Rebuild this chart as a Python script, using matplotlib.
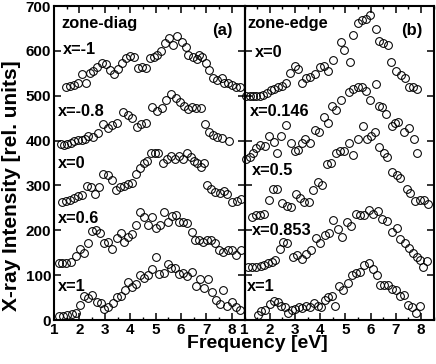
import matplotlib
matplotlib.use('Agg')
import matplotlib.pyplot as plt
from matplotlib.ticker import MultipleLocator

plt.rcParams['font.family'] = ['Liberation Sans', 'DejaVu Sans']
plt.rcParams['font.weight'] = 'bold'

# ---------------- data: zone-diag (a) ----------------
a_m1_x = [1.47, 1.63, 1.79, 1.94, 2.09, 2.25, 2.42, 2.55, 2.71, 2.88, 3.05, 3.2, 3.36, 3.53, 3.69,
          3.83, 3.99, 4.15, 4.29, 4.45, 4.61, 4.78, 4.94, 5.07, 5.2, 5.37, 5.54, 5.7, 5.83, 6.05,
          6.18, 6.29, 6.46, 6.62, 6.72, 6.84, 6.97, 7.11, 7.27, 7.43, 7.6, 7.7, 7.84, 8.0, 8.17, 8.33]
a_m1_y = [520, 522, 525, 528, 548, 529, 551, 554, 565, 574, 570, 557, 548, 559, 572,
          583, 588, 587, 561, 565, 561, 583, 587, 591, 600, 617, 628, 613, 633, 620,
          609, 591, 587, 581, 591, 587, 572, 557, 539, 535, 539, 528, 529, 524, 520, 519]

a_m08_x = [1.26, 1.39, 1.52, 1.67, 1.8, 1.93, 2.09, 2.22, 2.35, 2.52, 2.75, 2.92, 3.11, 3.27, 3.49,
           3.73, 3.93, 4.06, 4.26, 4.41, 4.61, 4.85, 5.04, 5.24, 5.41, 5.59, 5.79, 5.96, 6.12, 6.29,
           6.42, 6.59, 6.79, 6.94, 7.11, 7.27, 7.43, 7.63, 7.9]
a_m08_y = [392, 391, 392, 394, 398, 401, 401, 403, 410, 407, 416, 438, 427, 435, 440,
           464, 457, 450, 430, 438, 440, 474, 467, 472, 490, 503, 494, 487, 477, 470,
           474, 472, 472, 437, 418, 412, 409, 405, 398]

a_0_x = [1.3, 1.46, 1.62, 1.78, 1.94, 2.1, 2.3, 2.46, 2.62, 2.78, 2.94, 3.11, 3.27, 3.44, 3.6,
         3.77, 3.93, 4.07, 4.23, 4.39, 4.54, 4.67, 4.83, 4.96, 5.09, 5.28, 5.46, 5.6, 5.78, 5.92,
         6.08, 6.23, 6.38, 6.5, 6.64, 6.77, 6.9, 7.04, 7.19, 7.35, 7.52, 7.68, 7.82, 8.02, 8.19, 8.36]
a_0_y = [263, 266, 267, 271, 276, 279, 299, 297, 282, 296, 325, 323, 312, 289, 296,
         298, 304, 306, 325, 338, 349, 355, 372, 372, 372, 349, 360, 366, 358, 366,
         360, 373, 364, 355, 351, 342, 349, 301, 292, 286, 284, 288, 282, 262, 265, 269]

a_06_x = [1.2, 1.33, 1.49, 1.65, 1.85, 2.02, 2.19, 2.35, 2.48, 2.65, 2.81, 2.98, 3.14, 3.27, 3.47,
          3.62, 3.77, 3.93, 4.06, 4.23, 4.39, 4.56, 4.71, 4.85, 5.02, 5.17, 5.33, 5.48, 5.63, 5.8,
          5.93, 6.09, 6.25, 6.42, 6.55, 6.72, 6.88, 7.01, 7.17, 7.34, 7.5, 7.67, 7.84, 8.0, 8.17, 8.35]
a_06_y = [126, 126, 128, 130, 143, 158, 150, 172, 199, 201, 193, 171, 175, 158, 182,
          195, 175, 184, 192, 212, 241, 230, 212, 230, 204, 212, 241, 219, 232, 234,
          219, 219, 217, 197, 178, 178, 175, 178, 178, 172, 155, 152, 156, 155, 145, 156]

a_1_x = [1.2, 1.37, 1.52, 1.69, 1.85, 2.02, 2.18, 2.35, 2.51, 2.68, 2.84, 2.98, 3.14, 3.31, 3.47,
         3.62, 3.79, 3.93, 4.06, 4.23, 4.39, 4.56, 4.69, 4.85, 5.02, 5.15, 5.33, 5.48, 5.61, 5.76,
         5.93, 6.07, 6.22, 6.42, 6.58, 6.75, 6.91, 7.05, 7.21, 7.37, 7.54, 7.67, 7.82, 7.99, 8.17, 8.33]
a_1_y = [9, 9, 11, 13, 16, 33, 53, 50, 56, 41, 37, 24, 30, 39, 52,
         53, 67, 85, 74, 80, 100, 93, 100, 113, 141, 103, 105, 125, 115, 115,
         103, 105, 98, 106, 76, 91, 71, 91, 63, 45, 36, 67, 32, 41, 30, 22]

# ---------------- data: zone-edge (b) ----------------
b_0_x = [1.07, 1.2, 1.33, 1.46, 1.6, 1.73, 1.9, 2.04, 2.17, 2.33, 2.49, 2.66, 2.79, 2.99, 3.12,
         3.28, 3.43, 3.59, 3.79, 3.99, 4.15, 4.32, 4.52, 4.82, 4.96, 5.18, 5.32, 5.52, 5.67, 5.81,
         5.98, 6.21, 6.34, 6.51, 6.68, 6.82, 7.02, 7.2, 7.37, 7.51, 7.68, 7.84]
b_0_y = [499, 499, 499, 499, 500, 502, 507, 513, 516, 520, 522, 529, 551, 566, 559,
         529, 539, 542, 548, 563, 566, 554, 580, 619, 603, 576, 635, 661, 669, 672,
         680, 648, 623, 617, 613, 576, 554, 546, 539, 520, 519, 516]

b_0146_x = [1.07, 1.2, 1.33, 1.46, 1.6, 1.8, 1.96, 2.16, 2.3, 2.46, 2.66, 2.83, 2.99, 3.12, 3.28,
            3.42, 3.59, 3.79, 3.95, 4.16, 4.32, 4.48, 4.65, 4.82, 5.14, 5.32, 5.52, 5.67, 5.81, 5.98,
            6.21, 6.34, 6.47, 6.62, 6.84, 6.98, 7.11, 7.31, 7.51, 7.71, 7.84]
b_0146_y = [358, 364, 372, 384, 390, 388, 410, 397, 373, 410, 435, 394, 377, 378, 395,
            403, 394, 424, 420, 452, 440, 476, 468, 490, 509, 514, 520, 520, 510, 490,
            526, 476, 474, 459, 432, 440, 442, 418, 427, 403, 373]

b_05_x = [1.3, 1.46, 1.62, 1.78, 1.97, 2.13, 2.3, 2.5, 2.68, 2.85, 3.03, 3.2, 3.38, 3.55, 3.73,
          3.91, 4.09, 4.29, 4.43, 4.63, 4.78, 4.94, 5.14, 5.32, 5.52, 5.71, 5.85, 6.02, 6.18, 6.34,
          6.55, 6.66, 6.84, 7.04, 7.18, 7.44, 7.57, 7.77, 7.97, 8.14, 8.3]
b_05_y = [230, 233, 235, 237, 268, 292, 292, 261, 254, 253, 280, 273, 263, 264, 290,
          308, 302, 348, 351, 372, 377, 376, 394, 368, 403, 432, 403, 410, 420, 385,
          373, 363, 331, 323, 316, 291, 284, 266, 268, 267, 259]

b_0853_x = [1.13, 1.29, 1.46, 1.64, 1.77, 1.93, 2.09, 2.22, 2.39, 2.53, 2.7, 2.93, 3.1, 3.28, 3.46,
            3.63, 3.82, 3.99, 4.19, 4.35, 4.52, 4.72, 4.88, 5.05, 5.22, 5.41, 5.58, 5.75, 5.94, 6.11,
            6.29, 6.44, 6.64, 6.84, 7.04, 7.18, 7.35, 7.51, 7.67, 7.84, 7.97, 8.1, 8.24]
b_0853_y = [119, 119, 119, 120, 123, 126, 129, 134, 158, 175, 171, 140, 145, 135, 147,
            155, 182, 171, 189, 193, 223, 202, 186, 219, 210, 236, 234, 234, 245, 236,
            242, 225, 221, 197, 206, 180, 171, 161, 149, 141, 134, 119, 132]

b_1_x = [1.53, 1.67, 1.8, 2.0, 2.17, 2.33, 2.46, 2.59, 2.73, 2.89, 3.02, 3.15, 3.28, 3.46, 3.59,
         3.76, 3.9, 4.05, 4.19, 4.32, 4.48, 4.59, 4.75, 4.92, 5.09, 5.25, 5.41, 5.58, 5.75, 5.94,
         6.09, 6.25, 6.38, 6.54, 6.7, 6.86, 7.0, 7.16, 7.32, 7.47, 7.64, 7.81, 7.97]
b_1_y = [11, 19, 23, 36, 43, 41, 31, 28, 16, 22, 24, 28, 26, 31, 28,
         39, 31, 28, 45, 51, 53, 31, 76, 67, 83, 100, 105, 108, 123, 126,
         113, 100, 78, 78, 78, 70, 67, 53, 56, 33, 30, 16, 31]

# labels
a_title, b_title = "zone-diag", "zone-edge"
a_tag, b_tag = "(a)", "(b)"
a_series = [("x=-1", a_m1_x, a_m1_y), ("x=-0.8", a_m08_x, a_m08_y), ("x=0", a_0_x, a_0_y),
            ("x=0.6", a_06_x, a_06_y), ("x=1", a_1_x, a_1_y)]
b_series = [("x=0", b_0_x, b_0_y), ("x=0.146", b_0146_x, b_0146_y), ("x=0.5", b_05_x, b_05_y),
            ("x=0.853", b_0853_x, b_0853_y), ("x=1", b_1_x, b_1_y)]
a_label_pos = [(1.35, 604), (1.16, 464), (1.16, 350), (1.16, 227), (1.16, 74)]
b_label_pos = [(1.4, 597), (1.2, 464), (1.28, 334), (1.28, 200), (1.08, 74)]
xticks = [1, 2, 3, 4, 5, 6, 7, 8]
yticks = [0, 100, 200, 300, 400, 500, 600, 700]

W, H = 436, 364
fig = plt.figure(figsize=(W / 100, H / 100), dpi=100)


def box(l, t, r, b):
    return [l / W, 1 - b / H, (r - l) / W, (b - t) / H]


axL = fig.add_axes(box(54, 6, 244.5, 320))
axR = fig.add_axes(box(244.5, 6, 433.5, 320))

for ax, series, lpos, title, tag in [(axL, a_series, a_label_pos, a_title, a_tag),
                                     (axR, b_series, b_label_pos, b_title, b_tag)]:
    ax.patch.set_alpha(0)
    for (name, xs, ys), (lx, ly) in zip(series, lpos):
        ax.plot(xs, ys, 'o', ms=5.6, mfc='none', mec='black', mew=0.75, clip_on=False)
        ax.text(lx, ly, name, ha='left', va='center', fontsize=11.8, fontweight='bold')
    ax.text(1.3 if ax is axL else 1.12, 662, title, ha='left', va='center',
            fontsize=11.8, fontweight='bold')
    ax.text(7.62, 645, tag, ha='center', va='center', fontsize=12, fontweight='bold')
    ax.set_xlim(1, 8.5)
    ax.set_ylim(0, 700)
    ax.set_xticks(xticks)
    ax.xaxis.set_minor_locator(MultipleLocator(0.5))
    ax.set_yticks(yticks)
    ax.tick_params(which='major', direction='in', top=True, right=True, length=5, width=1.1,
                   labelsize=11, pad=2)
    ax.tick_params(which='minor', direction='in', top=True, right=True, length=2.5, width=1.0)
    for lab in ax.get_xticklabels() + ax.get_yticklabels():
        lab.set_fontweight('bold')
    for s in ax.spines.values():
        s.set_linewidth(1.5)

axR.tick_params(labelleft=False)

fig.text(257 / W, 1 - 344 / H, "Frequency [eV]", ha='center', va='center',
         fontsize=14, fontweight='bold')
fig.text(12 / W, 1 - 186 / H, "X-ray Intensity [rel. units]", ha='center', va='center',
         rotation=90, fontsize=15, fontweight='bold')

fig.savefig('out.png', dpi=100)
